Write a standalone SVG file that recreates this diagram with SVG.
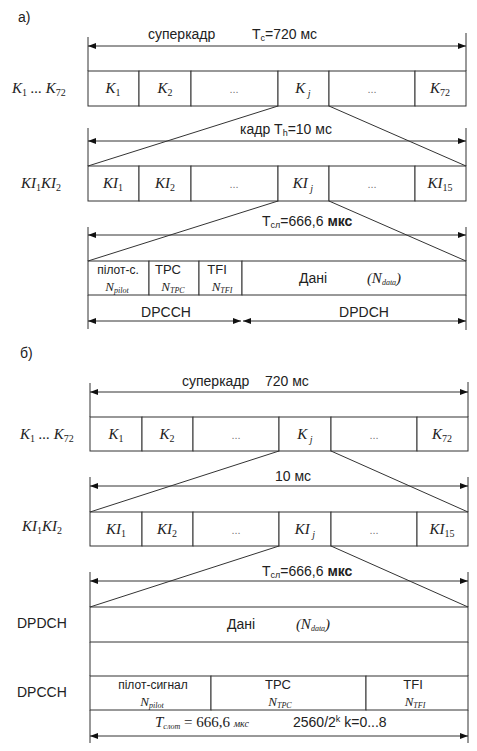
<svg xmlns="http://www.w3.org/2000/svg" width="477" height="751" viewBox="0 0 477 751">
<defs>
<style>
.ln{stroke:#333;stroke-width:1;fill:none}
.cell{stroke:#333;stroke-width:1;fill:#fff}
.s{font-family:"Liberation Sans",Arial,sans-serif;font-size:14px;fill:#222}
.ss{font-family:"Liberation Sans",Arial,sans-serif;font-size:12px;fill:#222}
.st{font-family:"Liberation Sans",Arial,sans-serif;font-size:13px;fill:#222}
.m{font-family:"Liberation Serif","Times New Roman",serif;font-style:italic;font-size:15px;fill:#222}
.mn{font-family:"Liberation Serif","Times New Roman",serif;font-style:italic;font-size:13px;fill:#222}
.sub{font-size:10px;font-style:normal}
.subi{font-size:8px;font-style:italic}
.d{font-family:"Liberation Sans",Arial,sans-serif;font-size:11px;fill:#777}
.b{font-weight:bold}
</style>
<marker id="ah" viewBox="0 0 8 6" refX="8" refY="3" markerWidth="8" markerHeight="6" orient="auto-start-reverse" markerUnits="userSpaceOnUse"><path d="M0,0 L8,3 L0,6 z" fill="#111"/></marker>
</defs>
<rect width="477" height="751" fill="#fff"/>

<!-- ===== Part a ===== -->
<text class="s" x="18" y="22">а)</text>

<g id="a-superframe-dim">
<line class="ln" x1="88" y1="37" x2="88" y2="71"/>
<line class="ln" x1="466" y1="33" x2="466" y2="71"/>
<line class="ln" x1="88" y1="46" x2="466" y2="46" marker-start="url(#ah)" marker-end="url(#ah)"/>
<text class="s" x="148" y="39">суперкадр</text>
<text class="s" x="252" y="39">T<tspan font-size="9" dy="2">c</tspan><tspan dy="-2">=720 мс</tspan></text>
</g>

<text class="m" x="12" y="93">K<tspan class="sub" dy="3">1</tspan><tspan dy="-3"> ... K</tspan><tspan class="sub" dy="3">72</tspan></text>
<g id="a-row1">
<g id="a-K1"><rect class="cell" x="88" y="71" width="51" height="35"/><text class="m" x="113" y="93" text-anchor="middle">K<tspan class="sub" dy="3">1</tspan></text></g>
<g id="a-K2"><rect class="cell" x="139" y="71" width="52" height="35"/><text class="m" x="165" y="93" text-anchor="middle">K<tspan class="sub" dy="3">2</tspan></text></g>
<g id="a-K-dots1"><rect class="cell" x="191" y="71" width="87" height="35"/><text class="d" x="234" y="93" text-anchor="middle">...</text></g>
<g id="a-Kj"><rect class="cell" x="278" y="71" width="51" height="35"/><text class="m" x="303" y="93" text-anchor="middle">K<tspan font-size="10" dy="4"> j</tspan></text></g>
<g id="a-K-dots2"><rect class="cell" x="329" y="71" width="86" height="35"/><text class="d" x="372" y="93" text-anchor="middle">...</text></g>
<g id="a-K72"><rect class="cell" x="415" y="71" width="51" height="35"/><text class="m" x="440" y="93" text-anchor="middle">K<tspan class="sub" dy="3">72</tspan></text></g>
</g>

<g id="a-frame-dim">
<line class="ln" x1="88" y1="128" x2="88" y2="166"/>
<line class="ln" x1="466" y1="128" x2="466" y2="166"/>
<line class="ln" x1="88" y1="141" x2="466" y2="141" marker-start="url(#ah)" marker-end="url(#ah)"/>
<text class="s" x="240" y="134">кадр T<tspan font-size="9" dy="2">h</tspan><tspan dy="-2">=10 мс</tspan></text>
</g>

<text class="m" x="21" y="188">KI<tspan class="sub" dy="3">1</tspan><tspan dy="-3">KI</tspan><tspan class="sub" dy="3">2</tspan></text>
<g id="a-row2">
<g id="a-KI1"><rect class="cell" x="88" y="166" width="51" height="35"/><text class="m" x="113" y="188" text-anchor="middle">KI<tspan class="sub" dy="3">1</tspan></text></g>
<g id="a-KI2"><rect class="cell" x="139" y="166" width="52" height="35"/><text class="m" x="165" y="188" text-anchor="middle">KI<tspan class="sub" dy="3">2</tspan></text></g>
<g id="a-KI-dots1"><rect class="cell" x="191" y="166" width="87" height="35"/><text class="d" x="234" y="188" text-anchor="middle">...</text></g>
<g id="a-KIj"><rect class="cell" x="278" y="166" width="51" height="35"/><text class="m" x="303" y="188" text-anchor="middle">KI<tspan font-size="10" dy="4"> j</tspan></text></g>
<g id="a-KI-dots2"><rect class="cell" x="329" y="166" width="86" height="35"/><text class="d" x="372" y="188" text-anchor="middle">...</text></g>
<g id="a-KI15"><rect class="cell" x="415" y="166" width="51" height="35"/><text class="m" x="440" y="188" text-anchor="middle">KI<tspan class="sub" dy="3">15</tspan></text></g>
</g>

<g id="a-slot-dim">
<line class="ln" x1="88" y1="227" x2="88" y2="261"/>
<line class="ln" x1="466" y1="227" x2="466" y2="261"/>
<line class="ln" x1="88" y1="235" x2="466" y2="235" marker-start="url(#ah)" marker-end="url(#ah)"/>
<text class="s" x="262" y="226">T<tspan font-size="9" dy="2">сл</tspan><tspan dy="-2">=666,6 </tspan><tspan class="b">мкс</tspan></text>
</g>

<g id="a-row3">
<g id="a-pilot"><rect class="cell" x="88" y="261" width="61" height="34"/><text class="ss" x="118" y="274" text-anchor="middle">пілот-с.</text><text class="mn" x="117" y="291" text-anchor="middle">N<tspan class="subi" dy="2">pilot</tspan></text></g>
<g id="a-tpc"><rect class="cell" x="149" y="261" width="50" height="34"/><text class="st" x="168" y="274" text-anchor="middle">TPC</text><text class="mn" x="173" y="291" text-anchor="middle">N<tspan class="subi" dy="2">TPC</tspan></text></g>
<g id="a-tfi"><rect class="cell" x="199" y="261" width="43" height="34"/><text class="st" x="217" y="274" text-anchor="middle">TFI</text><text class="mn" x="222" y="291" text-anchor="middle">N<tspan class="subi" dy="2">TFI</tspan></text></g>
<g id="a-data"><rect class="cell" x="242" y="261" width="224" height="34"/><text class="s" x="313" y="283" text-anchor="middle">Дані</text><text class="m" x="384" y="283" text-anchor="middle">(N<tspan class="subi" dy="2">data</tspan><tspan dy="-2">)</tspan></text></g>
</g>

<g id="a-channel-dims">
<line class="ln" x1="88" y1="295" x2="88" y2="329"/>
<line class="ln" x1="466" y1="295" x2="466" y2="330"/>
<line class="ln" x1="88" y1="321" x2="241" y2="321" marker-start="url(#ah)" marker-end="url(#ah)"/>
<line class="ln" x1="243" y1="321" x2="466" y2="321" marker-start="url(#ah)" marker-end="url(#ah)"/>
<text class="s" x="166" y="317" text-anchor="middle">DPCCH</text>
<text class="s" x="364" y="317" text-anchor="middle">DPDCH</text>
</g>

<!-- ===== Part b ===== -->
<text class="s" x="20" y="358">б)</text>

<g id="b-superframe-dim">
<line class="ln" x1="90" y1="383" x2="90" y2="417"/>
<line class="ln" x1="468" y1="382" x2="468" y2="417"/>
<line class="ln" x1="90" y1="392" x2="468" y2="392" marker-start="url(#ah)" marker-end="url(#ah)"/>
<text class="s" x="182" y="386">суперкадр</text>
<text class="s" x="265" y="386">720 мс</text>
</g>

<text class="m" x="20" y="439">K<tspan class="sub" dy="3">1</tspan><tspan dy="-3"> ... K</tspan><tspan class="sub" dy="3">72</tspan></text>
<g id="b-row1">
<g id="b-K1"><rect class="cell" x="90" y="417" width="52" height="34"/><text class="m" x="116" y="439" text-anchor="middle">K<tspan class="sub" dy="3">1</tspan></text></g>
<g id="b-K2"><rect class="cell" x="142" y="417" width="51" height="34"/><text class="m" x="167" y="439" text-anchor="middle">K<tspan class="sub" dy="3">2</tspan></text></g>
<g id="b-K-dots1"><rect class="cell" x="193" y="417" width="86" height="34"/><text class="d" x="236" y="439" text-anchor="middle">...</text></g>
<g id="b-Kj"><rect class="cell" x="279" y="417" width="52" height="34"/><text class="m" x="305" y="439" text-anchor="middle">K<tspan font-size="10" dy="4"> j</tspan></text></g>
<g id="b-K-dots2"><rect class="cell" x="331" y="417" width="86" height="34"/><text class="d" x="374" y="439" text-anchor="middle">...</text></g>
<g id="b-K72"><rect class="cell" x="417" y="417" width="51" height="34"/><text class="m" x="442" y="439" text-anchor="middle">K<tspan class="sub" dy="3">72</tspan></text></g>
</g>

<g id="b-frame-dim">
<line class="ln" x1="90" y1="477" x2="90" y2="512"/>
<line class="ln" x1="468" y1="477" x2="468" y2="512"/>
<line class="ln" x1="90" y1="486" x2="468" y2="486" marker-start="url(#ah)" marker-end="url(#ah)"/>
<text class="s" x="275" y="481">10 мс</text>
</g>

<text class="m" x="22" y="531">KI<tspan class="sub" dy="3">1</tspan><tspan dy="-3">KI</tspan><tspan class="sub" dy="3">2</tspan></text>
<g id="b-row2">
<g id="b-KI1"><rect class="cell" x="90" y="512" width="52" height="34"/><text class="m" x="116" y="534" text-anchor="middle">KI<tspan class="sub" dy="3">1</tspan></text></g>
<g id="b-KI2"><rect class="cell" x="142" y="512" width="51" height="34"/><text class="m" x="167" y="534" text-anchor="middle">KI<tspan class="sub" dy="3">2</tspan></text></g>
<g id="b-KI-dots1"><rect class="cell" x="193" y="512" width="86" height="34"/><text class="d" x="236" y="534" text-anchor="middle">...</text></g>
<g id="b-KIj"><rect class="cell" x="279" y="512" width="52" height="34"/><text class="m" x="305" y="534" text-anchor="middle">KI<tspan font-size="10" dy="4"> j</tspan></text></g>
<g id="b-KI-dots2"><rect class="cell" x="331" y="512" width="86" height="34"/><text class="d" x="374" y="534" text-anchor="middle">...</text></g>
<g id="b-KI15"><rect class="cell" x="417" y="512" width="51" height="34"/><text class="m" x="442" y="534" text-anchor="middle">KI<tspan class="sub" dy="3">15</tspan></text></g>
</g>

<g id="b-slot-dim">
<line class="ln" x1="90" y1="572" x2="90" y2="607"/>
<line class="ln" x1="468" y1="572" x2="468" y2="607"/>
<line class="ln" x1="90" y1="581" x2="468" y2="581" marker-start="url(#ah)" marker-end="url(#ah)"/>
<text class="s" x="262" y="576">T<tspan font-size="9" dy="2">сл</tspan><tspan dy="-2">=666,6 </tspan><tspan class="b">мкс</tspan></text>
</g>

<text class="s" x="17" y="628">DPDCH</text>
<g id="b-dpdch">
<rect class="cell" x="90" y="607" width="378" height="35"/>
<text class="s" x="241" y="629" text-anchor="middle">Дані</text>
<text class="m" x="313" y="629" text-anchor="middle">(N<tspan class="subi" dy="2">data</tspan><tspan dy="-2">)</tspan></text>
</g>
<g id="b-gap">
<line class="ln" x1="90" y1="642" x2="90" y2="676"/>
<line class="ln" x1="468" y1="642" x2="468" y2="676"/>
</g>

<text class="s" x="17" y="697">DPCCH</text>
<g id="b-dpcch">
<g id="b-pilot"><rect class="cell" x="90" y="676" width="121" height="34"/><text class="ss" x="153" y="689" text-anchor="middle">пілот-сигнал</text><text class="mn" x="152" y="706" text-anchor="middle">N<tspan class="subi" dy="2">pilot</tspan></text></g>
<g id="b-tpc"><rect class="cell" x="211" y="676" width="155" height="34"/><text class="st" x="278" y="689" text-anchor="middle">TPC</text><text class="mn" x="280" y="706" text-anchor="middle">N<tspan class="subi" dy="2">TPC</tspan></text></g>
<g id="b-tfi"><rect class="cell" x="366" y="676" width="102" height="34"/><text class="st" x="413" y="689" text-anchor="middle">TFI</text><text class="mn" x="415" y="706" text-anchor="middle">N<tspan class="subi" dy="2">TFI</tspan></text></g>
</g>

<g id="b-slot-bottom-dim">
<line class="ln" x1="90" y1="710" x2="90" y2="743"/>
<line class="ln" x1="468" y1="710" x2="468" y2="743"/>
<line class="ln" x1="90" y1="736" x2="468" y2="736" marker-start="url(#ah)" marker-end="url(#ah)"/>
<text class="m" x="155" y="727">T<tspan class="subi" dy="2">слот</tspan><tspan dy="-2" font-style="normal"> = 666,6 </tspan><tspan font-size="10">мкс</tspan></text>
<text class="s" x="293" y="727">2560/2<tspan font-size="9" dy="-5">k</tspan><tspan dy="5"> k=0...8</tspan></text>
</g>

<!-- connectors (zoom lines) -->
<g id="connectors">
<line class="ln" x1="278" y1="106" x2="88" y2="166"/>
<line class="ln" x1="329" y1="106" x2="466" y2="166"/>
<line class="ln" x1="278" y1="201" x2="88" y2="261"/>
<line class="ln" x1="329" y1="201" x2="466" y2="261"/>
<line class="ln" x1="279" y1="451" x2="90" y2="512"/>
<line class="ln" x1="331" y1="451" x2="468" y2="512"/>
<line class="ln" x1="279" y1="546" x2="90" y2="607"/>
<line class="ln" x1="331" y1="546" x2="468" y2="607"/>
</g>
</svg>
